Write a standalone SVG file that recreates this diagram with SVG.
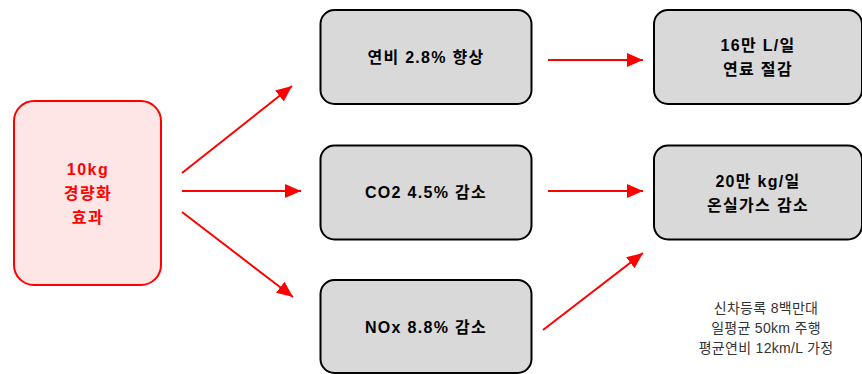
<svg xmlns="http://www.w3.org/2000/svg" width="862" height="374" viewBox="0 0 862 374">
<defs>
<style>
.n{fill:#d9d9d9;stroke:#000;stroke-width:2}
.r{fill:#ffe6e6;stroke:#ff0000;stroke-width:2}
.t{font-family:"Liberation Sans","Noto Sans CJK KR",sans-serif;font-size:16px;font-weight:bold;fill:#000;text-anchor:middle;letter-spacing:1.3px}
.tr{font-family:"Liberation Sans","Noto Sans CJK KR",sans-serif;font-size:16px;font-weight:bold;fill:#ff0000;text-anchor:middle;letter-spacing:1.5px}
.f{font-family:"Liberation Sans","Noto Sans CJK KR",sans-serif;font-size:14px;fill:#333;text-anchor:middle;letter-spacing:0.3px}
.c{stroke:#ff0000;stroke-width:2;fill:none;marker-end:url(#a)}
</style>
<marker id="a" markerUnits="userSpaceOnUse" markerWidth="18" markerHeight="16" refX="16" refY="7" orient="auto">
<path d="M0,0 L16,7 L0,14 Z" fill="#ff0000"/>
</marker>
</defs>
<g id="n0"><rect class="r" x="14" y="101" width="147" height="184" rx="20"/>
<text class="tr" x="88" y="175">10kg</text>
<text class="tr" x="88" y="199">경량화</text>
<text class="tr" x="88" y="223">효과</text></g>
<g id="n1"><rect class="n" x="320.5" y="10" width="211" height="94" rx="14"/>
<text class="t" x="426" y="63">연비 2.8% 향상</text></g>
<g id="n2"><rect class="n" x="320.5" y="145.5" width="211" height="94" rx="14"/>
<text class="t" x="426" y="198">CO2 4.5% 감소</text></g>
<g id="n3"><rect class="n" x="320.5" y="280" width="211" height="93" rx="14"/>
<text class="t" x="426" y="333">NOx 8.8% 감소</text></g>
<g id="n4"><rect class="n" x="654" y="10" width="208" height="94" rx="14"/>
<text class="t" x="758" y="51">16만 L/일</text>
<text class="t" x="758" y="75">연료 절감</text></g>
<g id="n5"><rect class="n" x="654" y="145.5" width="208" height="94" rx="14"/>
<text class="t" x="758" y="187">20만 kg/일</text>
<text class="t" x="758" y="211">온실가스 감소</text></g>
<g id="note">
<text class="f" x="766" y="313">신차등록 8백만대</text>
<text class="f" x="766" y="333">일평균 50km 주행</text>
<text class="f" x="766" y="353">평균연비 12km/L 가정</text></g>
<g id="connectors">
<line class="c" x1="182" y1="173" x2="292" y2="86"/>
<line class="c" x1="182" y1="191" x2="301" y2="191"/>
<line class="c" x1="182" y1="212" x2="293" y2="297"/>
<line class="c" x1="548" y1="60" x2="643" y2="60"/>
<line class="c" x1="548" y1="191" x2="643" y2="191"/>
<line class="c" x1="543" y1="330" x2="643" y2="253"/>
</g>
</svg>
